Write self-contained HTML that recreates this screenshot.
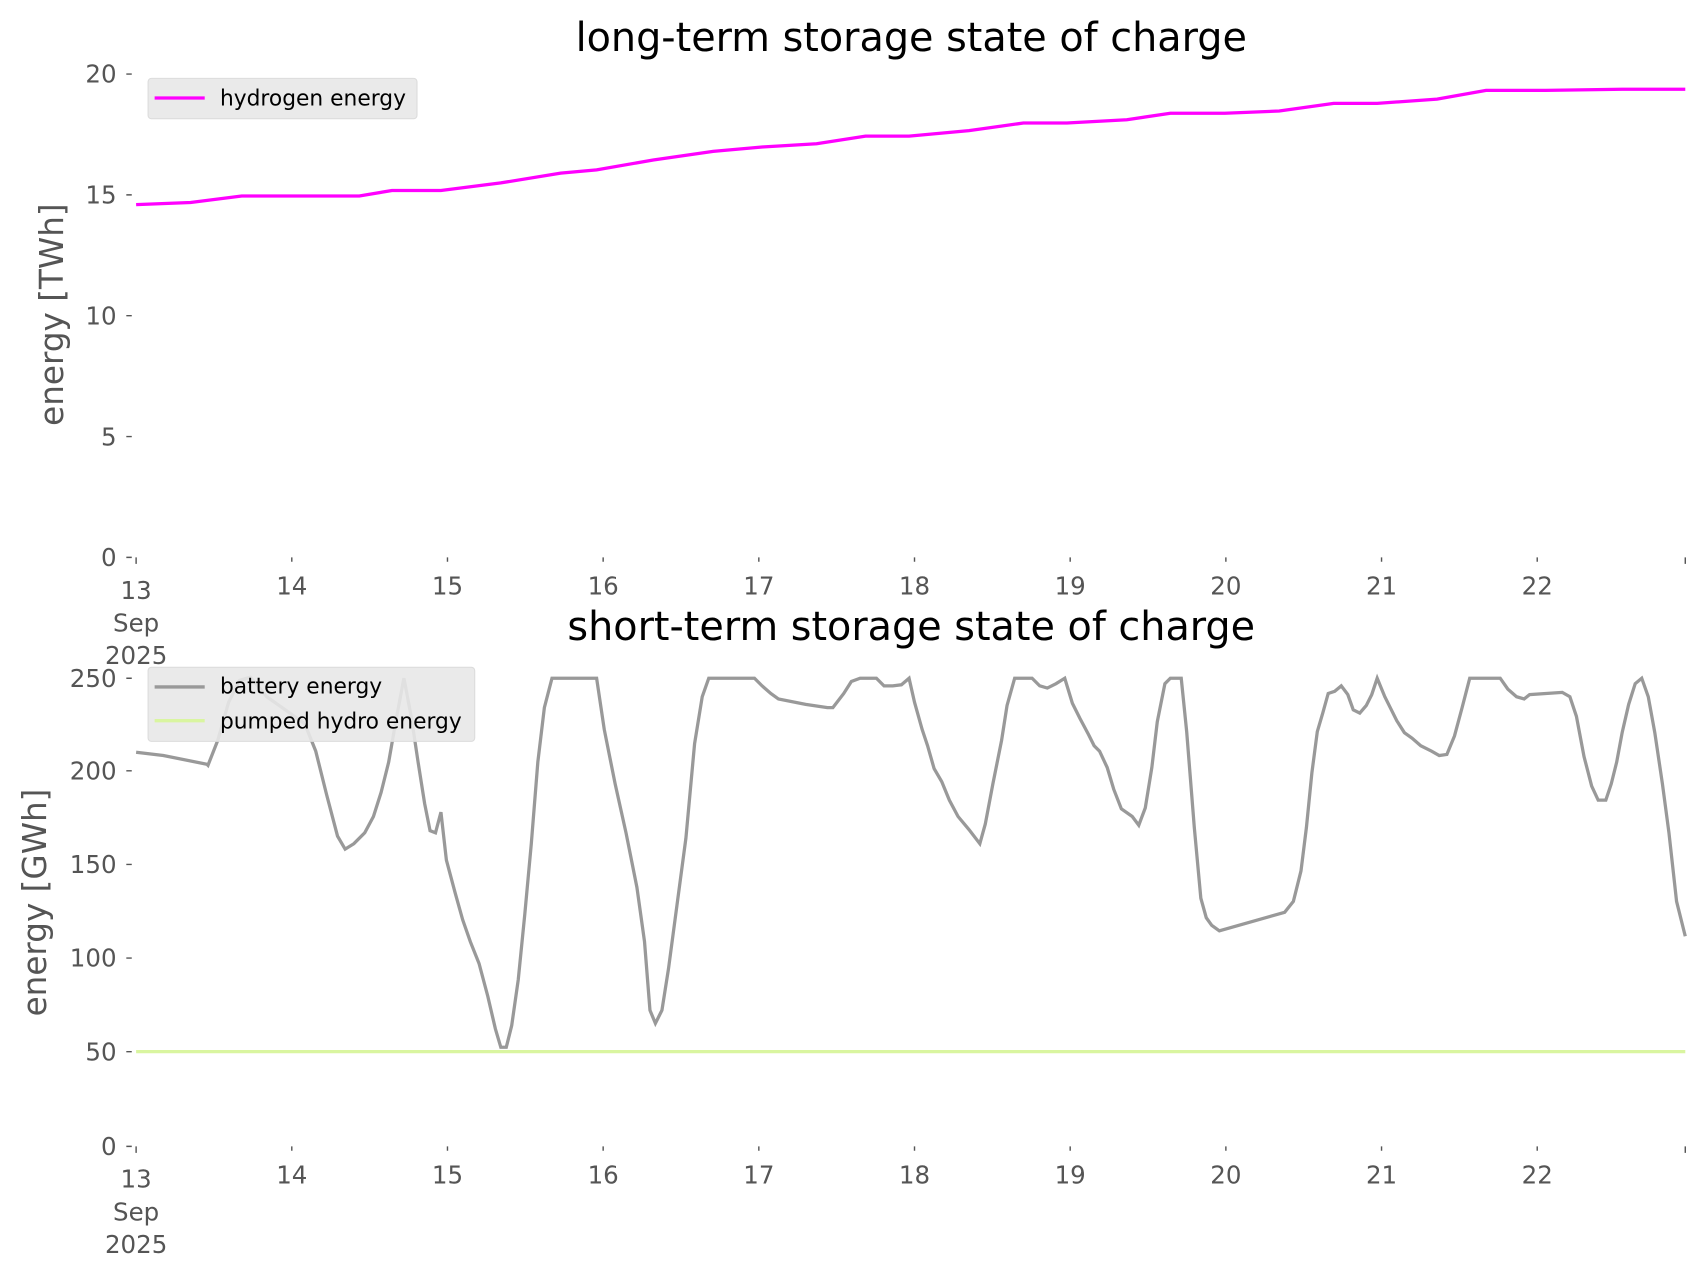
<!DOCTYPE html>
<html><head><meta charset="utf-8"><style>html,body{margin:0;padding:0;background:#fff}</style></head>
<body>
<svg width="1706" height="1277" viewBox="0 0 1567 1173" xmlns="http://www.w3.org/2000/svg" font-family="'DejaVu Sans','Liberation Sans',sans-serif">
<rect width="1567" height="1173" fill="#fff"/>
<g fill="#000" font-size="36.5" text-anchor="middle">
<text x="837" y="47">long-term storage state of charge</text>
<text x="837" y="588">short-term storage state of charge</text>
</g>
<g fill="#555" font-size="22.5" text-anchor="end">
<text x="107" y="520">0</text><text x="107" y="409">5</text><text x="107" y="298">10</text><text x="107" y="187">15</text><text x="107" y="76">20</text>
<text x="107" y="1061">0</text><text x="107" y="974">50</text><text x="107" y="888">100</text><text x="107" y="802">150</text><text x="107" y="716">200</text><text x="107" y="631">250</text>
</g>
<g stroke="#555" stroke-width="1.3">
<path d="M116 512h5M116 401h5M116 290h5M116 179h5M116 68h5M116 1053h5M116 966h5M116 880h5M116 794h5M116 708h5M116 623h5"/>
<path d="M125 512v6M268 512v4M411 512v4M554 512v4M697 512v4M840 512v4M983 512v4M1126 512v4M1269 512v4M1412 512v4M1548 512v6"/>
<path d="M125 1053v6M268 1053v4M411 1053v4M554 1053v4M697 1053v4M840 1053v4M983 1053v4M1126 1053v4M1269 1053v4M1412 1053v4M1548 1053v6"/>
</g>
<g fill="#555" font-size="22.5" text-anchor="middle">
<text x="125" y="550">13</text><text x="125" y="580">Sep</text><text x="125" y="610">2025</text>
<text x="268" y="546">14</text><text x="411" y="546">15</text><text x="554" y="546">16</text><text x="697" y="546">17</text><text x="840" y="546">18</text><text x="983" y="546">19</text><text x="1126" y="546">20</text><text x="1269" y="546">21</text><text x="1412" y="546">22</text>
<text x="125" y="1091">13</text><text x="125" y="1121">Sep</text><text x="125" y="1151">2025</text>
<text x="268" y="1087">14</text><text x="411" y="1087">15</text><text x="554" y="1087">16</text><text x="697" y="1087">17</text><text x="840" y="1087">18</text><text x="983" y="1087">19</text><text x="1126" y="1087">20</text><text x="1269" y="1087">21</text><text x="1412" y="1087">22</text>
</g>
<g fill="#555" font-size="30" text-anchor="middle">
<text transform="translate(58 289) rotate(-90)">energy [TWh]</text>
<text transform="translate(42 829) rotate(-90)">energy [GWh]</text>
</g>
<polyline fill="none" stroke="#ff00ff" stroke-width="3" points="125,188 175,186 222,180 330,180 360,175 405,175 460,168 515,159 548,156 600,147 655,139 700,135 750,132 795,125 835,125 890,120 940,113 980,113 1035,110 1075,104 1125,104 1175,102 1225,95 1265,95 1320,91 1365,83 1420,83 1490,82 1548,82"/>
<line x1="125" y1="966" x2="1548" y2="966" stroke="#d9f5a0" stroke-width="3"/>
<polyline fill="none" stroke="#999" stroke-width="3" points="125,691 150,694 190,702 191,703 200,680 210,645 220,625 230,622 245,640 262,652 280,665 290,690 300,730 310,768 317,780 325,775 335,765 343,750 350,728 357,700 364,660 371,623 378,660 384,700 390,738 395,763 400,765 405,746 410,790 418,820 425,845 432,865 440,885 448,915 455,945 460,962 465,962 470,942 476,900 482,840 488,775 494,700 500,650 507,623 548,623 555,670 565,720 575,765 585,815 592,865 597,928 602,940 608,928 614,890 622,830 630,770 638,683 645,640 651,623 693,623 700,630 708,637 715,642 740,647 760,650 765,650 775,637 782,626 790,623 805,623 812,630 820,630 828,629 835,623 840,645 847,670 852,685 858,706 865,718 872,735 880,750 890,762 900,775 905,757 912,720 920,680 925,648 932,623 948,623 955,630 962,632 970,628 978,623 985,646 992,660 1000,675 1005,685 1010,690 1017,705 1023,725 1030,743 1040,750 1046,758 1052,742 1058,705 1063,663 1070,628 1075,623 1085,623 1090,672 1097,760 1103,825 1108,843 1113,850 1120,855 1180,838 1188,828 1195,800 1200,760 1205,710 1210,672 1215,655 1220,637 1226,635 1232,630 1238,638 1243,652 1249,655 1255,648 1260,638 1265,623 1272,640 1278,652 1283,662 1290,673 1297,678 1305,685 1315,690 1322,694 1329,693 1336,676 1343,650 1350,623 1378,623 1385,633 1393,640 1400,642 1405,638 1435,636 1442,640 1448,658 1455,695 1462,722 1468,735 1475,735 1480,720 1485,700 1490,673 1496,647 1502,628 1508,623 1514,640 1520,673 1527,720 1533,765 1540,828 1548,860"/>
<rect x="136" y="72" width="247" height="37" rx="3" fill="#e8e8e8" fill-opacity="0.9" stroke="#dcdcdc"/>
<line x1="142" y1="90" x2="188" y2="90" stroke="#ff00ff" stroke-width="3"/>
<text x="202" y="97" font-size="20" fill="#000">hydrogen energy</text>
<rect x="136" y="613" width="300" height="68" rx="3" fill="#e8e8e8" fill-opacity="0.9" stroke="#dcdcdc"/>
<line x1="142" y1="631" x2="188" y2="631" stroke="#999" stroke-width="3"/>
<text x="202" y="637" font-size="20" fill="#000">battery energy</text>
<line x1="142" y1="662" x2="188" y2="662" stroke="#d9f5a0" stroke-width="3"/>
<text x="202" y="669" font-size="20" fill="#000">pumped hydro energy</text>
</svg>
</body></html>
